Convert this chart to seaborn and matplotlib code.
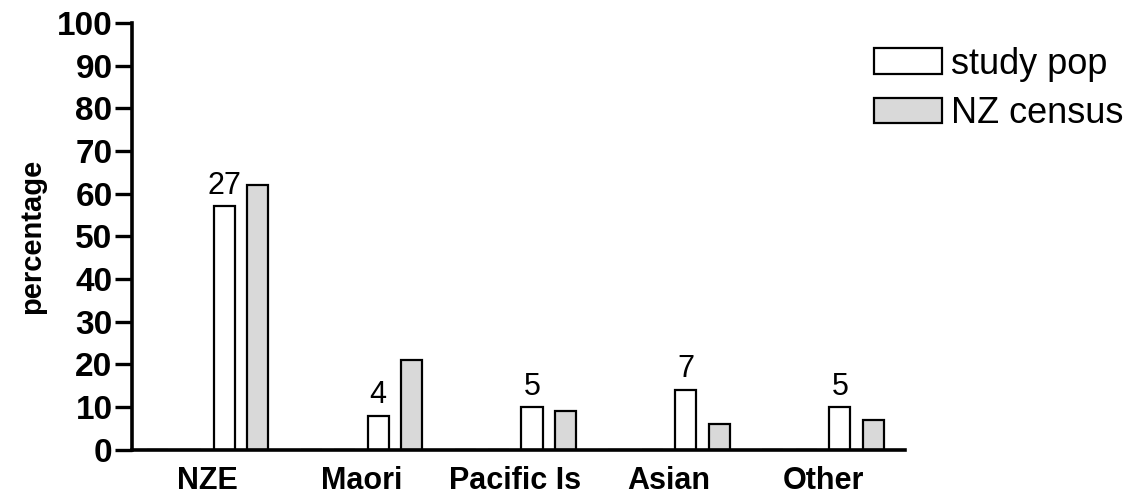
import matplotlib
matplotlib.use('Agg')
import matplotlib.pyplot as plt
import matplotlib.patches as mpatches
import pandas as pd
import seaborn as sns

# ---- data ----
GROUPS = ['NZE', 'Maori', 'Pacific Is', 'Asian', 'Other']
SERIES = ['blank a', 'blank b', 'study pop', 'NZ census']
BLANK_A = [0, 0, 0, 0, 0]
BLANK_B = [0, 0, 0, 0, 0]
STUDY_POP = [57, 8, 10, 14, 10]
NZ_CENSUS = [62, 21, 9, 6, 7]
N_LABELS = ['27', '4', '5', '7', '5']
Y_TICKS = list(range(0, 101, 10))

COLORS = {'blank a': 'white', 'blank b': 'white', 'study pop': 'white', 'NZ census': '#d9d9d9'}

rows = []
for s, vals in zip(SERIES, [BLANK_A, BLANK_B, STUDY_POP, NZ_CENSUS]):
    for g, v in zip(GROUPS, vals):
        rows.append({'group': g, 'series': s, 'value': v})
df = pd.DataFrame(rows)

sns.set_style('ticks')
plt.rcParams['font.family'] = ['Liberation Sans', 'DejaVu Sans']
plt.rcParams.update({'text.color': 'black', 'axes.labelcolor': 'black',
                     'xtick.color': 'black', 'ytick.color': 'black',
                     'axes.edgecolor': 'black'})

fig, ax = plt.subplots(figsize=(11.38, 4.97), dpi=100)
fig.subplots_adjust(left=0.116, right=0.795, bottom=0.095, top=0.954)

sns.barplot(data=df, x='group', y='value', hue='series', order=GROUPS, hue_order=SERIES,
            palette=COLORS, width=0.87, gap=0.37, edgecolor='black', linewidth=1.6,
            legend=False, ax=ax)

# n per group above the study pop bars
ax.bar_label(ax.containers[2], labels=N_LABELS, padding=4, fontsize=22)

ax.set_xlim(-0.49, 4.53)
ax.set_ylim(0, 100)
ax.set_yticks(Y_TICKS)
ax.set_xticks(range(len(GROUPS)))
ax.set_xticklabels(GROUPS, fontsize=22, fontweight='bold')
ax.set_yticklabels([str(t) for t in Y_TICKS], fontsize=24, fontweight='bold')
ax.tick_params(axis='y', length=12, width=2.4, pad=2)
ax.tick_params(axis='x', length=0, pad=12)
ax.set_xlabel('')
ax.set_ylabel('percentage', fontsize=21, fontweight='bold', labelpad=8)

sns.despine(ax=ax)
for sp in ['left', 'bottom']:
    ax.spines[sp].set_linewidth(2.6)

handles = [mpatches.Patch(facecolor=COLORS[s], edgecolor='black', linewidth=1.6, label=s)
           for s in ['study pop', 'NZ census']]
fig.legend(handles=handles, loc='upper left', bbox_to_anchor=(0.755, 0.935), frameon=False,
           fontsize=26, handlelength=1.9, handleheight=0.7, handletextpad=0.25,
           labelspacing=0.4, borderaxespad=0)

fig.savefig('out.png', dpi=100, facecolor='white')
